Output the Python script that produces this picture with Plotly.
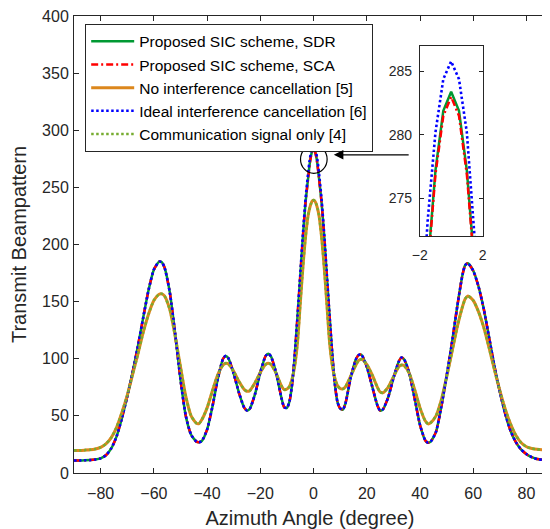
import plotly.graph_objects as go

# ---------------- data ----------------
angle_deg = [-90, -88, -86, -84, -82, -80, -78, -76, -74, -72, -70, -68, -66, -64, -62, -60, -58, -57,
             -56, -54, -52, -50, -48, -46, -44, -43, -42, -40, -38, -36, -34, -33, -32, -30, -28, -26,
             -25, -24, -22, -20, -18, -17, -16, -14, -12, -11, -10, -9, -8, -7, -6, -5, -4, -3, -2,
             -1.5, -1, -0.5, 0, 0.5, 1, 1.5, 2, 3, 4, 5, 6, 7, 8, 9, 10, 11, 12, 14, 16, 17, 18, 20,
             22, 24, 25, 26, 28, 30, 32, 33, 34, 36, 38, 40, 42, 43, 44, 46, 48, 50, 52, 54, 56, 57,
             58, 60, 62, 64, 66, 68, 70, 72, 74, 76, 78, 80, 82, 84, 86, 88, 90]

beam_sdr = [11.0, 11.0, 11.1, 11.3, 11.8, 12.8, 15.5, 21.5, 32, 48, 67, 88, 111, 136, 160, 178, 185, 184.5,
            180, 158, 122, 82, 50, 33.5, 27.5, 27, 28, 38, 58, 82, 100, 102.5, 100.5, 87, 70, 57,
            54.7, 56, 69, 88, 102.5, 104.3, 102, 87, 65, 57.5, 57, 63, 79, 105, 138, 172, 207, 237, 259,
            269.5, 277.2, 281.9, 283.4, 281.9, 277.2, 269.5, 259, 237, 207, 172, 138, 105, 78, 62, 56.5, 55.5, 61, 84, 100, 103.3, 103.5, 93,
            76, 59, 54.7, 55.5, 66, 83, 97.5, 101, 99.5, 87, 65, 42, 28.5, 26.5, 27.5, 36, 58, 85, 114, 146, 174, 182,
            183.5, 177, 163, 143, 118, 93, 71, 52, 37, 27, 20.5, 16.5, 13.8, 12.2, 11.5, 11.1, 11.0]

beam_sca = [11.0, 11.0, 11.1, 11.3, 11.8, 12.8, 15.5, 21.5, 32, 48, 67, 88, 111, 136, 160, 178, 185, 184.5,
            180, 158, 122, 82, 50, 33.5, 27.5, 27, 28, 38, 58, 82, 100, 102.5, 100.5, 87, 70, 57,
            54.7, 56, 69, 88, 102.5, 104.3, 102, 87, 65, 57.5, 57, 63, 79, 105, 138, 172, 207, 237, 258.8,
            269.2, 276.9, 281.5, 283.0, 281.5, 276.9, 269.2, 258.8, 237, 207, 172, 138, 105, 78, 62, 56.5, 55.5, 61, 84, 100, 103.3, 103.5, 93,
            76, 59, 54.7, 55.5, 66, 83, 97.5, 101, 99.5, 87, 65, 42, 28.5, 26.5, 27.5, 36, 58, 85, 114, 146, 174, 182,
            183.5, 177, 163, 143, 118, 93, 71, 52, 37, 27, 20.5, 16.5, 13.8, 12.2, 11.5, 11.1, 11.0]

beam_ideal = [11.0, 11.0, 11.1, 11.3, 11.8, 12.8, 15.5, 21.5, 32, 48, 67, 88, 111, 136, 160, 178, 185, 184.5,
              180, 158, 122, 82, 50, 33.5, 27.5, 27, 28, 38, 58, 82, 100, 102.5, 100.5, 87, 70, 57,
              54.7, 56, 69, 88, 102.5, 104.3, 102, 87, 65, 57.5, 57, 63, 79, 105, 138, 173.5, 209, 240, 263.4,
              273.2, 280.2, 284.4, 285.8, 284.4, 280.2, 273.2, 263.4, 240, 209, 173.5, 138, 105, 78, 62, 56.5, 55.5, 61, 84, 100, 103.3, 103.5, 93,
              76, 59, 54.7, 55.5, 66, 83, 97.5, 101, 99.5, 87, 65, 42, 28.5, 26.5, 27.5, 36, 58, 85, 114, 146, 174, 182,
              183.5, 177, 163, 143, 118, 93, 71, 52, 37, 27, 20.5, 16.5, 13.8, 12.2, 11.5, 11.1, 11.0]

beam_no_ic = [19.8, 19.8, 20.0, 20.3, 21.0, 22.5, 25.5, 31, 40, 53, 68, 86, 104, 123, 139, 151, 156.5, 156.8,
              155, 143, 120, 93, 67, 50, 43.5, 43.3, 46.5, 57, 72, 86, 94.5, 96, 95.5, 89, 80, 73,
              71.5, 72, 79, 88, 95, 96, 95, 87, 76, 73, 73.5, 76, 83, 95, 115, 148, 180, 207, 226,
              231.5, 235.5, 238, 238.8, 238, 235.5, 231.5, 226, 207, 180, 148, 115, 95, 83, 76.5, 74, 73.6, 75.5, 85, 95, 98.5, 99.5, 95,
              86, 75, 71, 70.2, 75, 84, 93, 94.5, 94, 87, 73, 57, 45.5, 43, 44, 50, 64, 84, 106, 128, 146, 152.5,
              155, 151, 141, 127, 109, 90, 72, 56, 43, 33, 26.5, 23, 21.5, 20.7, 20.3, 20.2, 20.2]

beam_comm = [19.8, 19.8, 20.0, 20.3, 21.0, 22.5, 25.5, 31, 40, 53, 68, 86, 104, 123, 139, 151, 156.5, 156.8,
             155, 143, 120, 93, 67, 50, 43.5, 43.3, 46.5, 57, 72, 86, 94.5, 96, 95.5, 89, 80, 73,
             71.5, 72, 79, 88, 95, 96, 95, 87, 76, 73, 73.5, 76, 83, 95, 115, 148, 180, 207, 226,
             231.5, 235.5, 238, 238.8, 238, 235.5, 231.5, 226, 207, 180, 148, 115, 95, 83, 76.5, 74, 73.6, 75.5, 85, 95, 98.5, 99.5, 95,
             86, 75, 71, 70.2, 75, 84, 93, 94.5, 94, 87, 73, 57, 45.5, 43, 44, 50, 64, 84, 106, 128, 146, 152.5,
             155, 151, 141, 127, 109, 90, 72, 56, 43, 33, 26.5, 23, 21.5, 20.7, 20.3, 20.2, 20.2]

series_names = ["Proposed SIC scheme, SDR", "Proposed SIC scheme, SCA",
                "No interference cancellation [5]", "Ideal interference cancellation [6]",
                "Communication signal only [4]"]

x_ticks = [-80, -60, -40, -20, 0, 20, 40, 60, 80]
y_ticks = [0, 50, 100, 150, 200, 250, 300, 350, 400]
inset_x_ticks = [-2, 2]
inset_y_ticks = [275, 280, 285]

for arr in (beam_sdr, beam_sca, beam_ideal, beam_no_ic, beam_comm):
    assert len(arr) == len(angle_deg)

# ---------------- styles ----------------
FONT = "Liberation Sans, Arial, sans-serif"
AX = "#262626"
styles = [
    dict(color="#009933", width=2.5, dash="solid"),
    dict(color="#FF0000", width=2.5, dash="7px,3px,2px,3px"),
    dict(color="#DC871C", width=3, dash="solid"),
    dict(color="#0000FF", width=2.6, dash="2.5px,2.5px"),
    dict(color="#77AC30", width=2.6, dash="2.5px,2.5px"),
]
series = [beam_sdr, beam_sca, beam_no_ic, beam_ideal, beam_comm]

fig = go.Figure()
for name, ys, st in zip(series_names, series, styles):
    fig.add_trace(go.Scatter(x=angle_deg, y=ys, mode="lines", name=name,
                             line=dict(color=st["color"], width=st["width"], dash=st["dash"],
                                       shape="spline", smoothing=0.6),
                             xaxis="x", yaxis="y"))

# inset (zoom on main-lobe peak)
for idx in (0, 1, 3):
    st = styles[idx]
    fig.add_trace(go.Scatter(x=angle_deg, y=series[idx], mode="lines", showlegend=False,
                             line=dict(color=st["color"], width=st["width"], dash=st["dash"]),
                             xaxis="x2", yaxis="y2", hoverinfo="skip"))

# the page body has an 8px default margin, so the figure is 8px smaller than the window
fig.update_layout(
    width=542, height=521,
    margin=dict(l=66, r=0, t=5, b=56),
    paper_bgcolor="white", plot_bgcolor="white",
    font=dict(family=FONT, size=16, color=AX),
    xaxis=dict(range=[-90, 87.33], tickvals=x_ticks, ticks="inside", ticklen=5, tickcolor=AX,
               showline=True, linecolor=AX, linewidth=1, mirror="ticks", showgrid=False,
               zeroline=False, ticklabelstandoff=6, ticklabeloverflow="allow",
               tickfont=dict(family=FONT, size=16, color=AX),
               title=dict(text="Azimuth Angle (degree)", font=dict(family=FONT, size=20, color=AX),
                          standoff=10),
               domain=[0, 1]),
    yaxis=dict(range=[0, 400], tickvals=y_ticks, ticks="inside", ticklen=5, tickcolor=AX,
               showline=True, linecolor=AX, linewidth=1, showgrid=False, zeroline=False,
               ticklabelstandoff=1, ticklabeloverflow="allow",
               tickfont=dict(family=FONT, size=16, color=AX),
               title=dict(text="Transmit Beampattern", font=dict(family=FONT, size=20, color=AX),
                          standoff=10),
               domain=[0, 1]),
    xaxis2=dict(domain=[0.7326, 0.8655], anchor="y2", range=[-2, 2], tickvals=inset_x_ticks,
                ticks="inside", ticklen=4, tickcolor=AX, showline=True, linecolor=AX, linewidth=1,
                mirror="ticks", showgrid=False, zeroline=False, ticklabelstandoff=6,
                tickfont=dict(family=FONT, size=14, color=AX)),
    yaxis2=dict(domain=[0.518, 0.934], anchor="x2", range=[272, 287], tickvals=inset_y_ticks,
                ticks="inside", ticklen=4, tickcolor=AX, showline=True, linecolor=AX, linewidth=1,
                mirror="ticks", showgrid=False, zeroline=False, ticklabelstandoff=4,
                tickfont=dict(family=FONT, size=14, color=AX)),
    legend=dict(x=0.0237, y=0.983, xanchor="left", yanchor="top", bgcolor="white",
                bordercolor=AX, borderwidth=1, font=dict(family=FONT, size=15.5, color="black"),
                itemwidth=43, tracegroupgap=0),
    showlegend=True,
)

# circle around the main-lobe peak
fig.add_shape(type="circle", xref="x", yref="y", x0=-4.9, x1=5.1, y0=262.3, y1=287,
              line=dict(color="black", width=1.2))
# arrow pointing to the circle
fig.add_annotation(x=7.6, y=278.5, ax=36.3, ay=278.5, xref="x", yref="y", axref="x", ayref="y",
                   text="", showarrow=True, arrowhead=2, arrowsize=1.6, arrowwidth=1.2,
                   arrowcolor="black")

fig.write_html("out.html")
